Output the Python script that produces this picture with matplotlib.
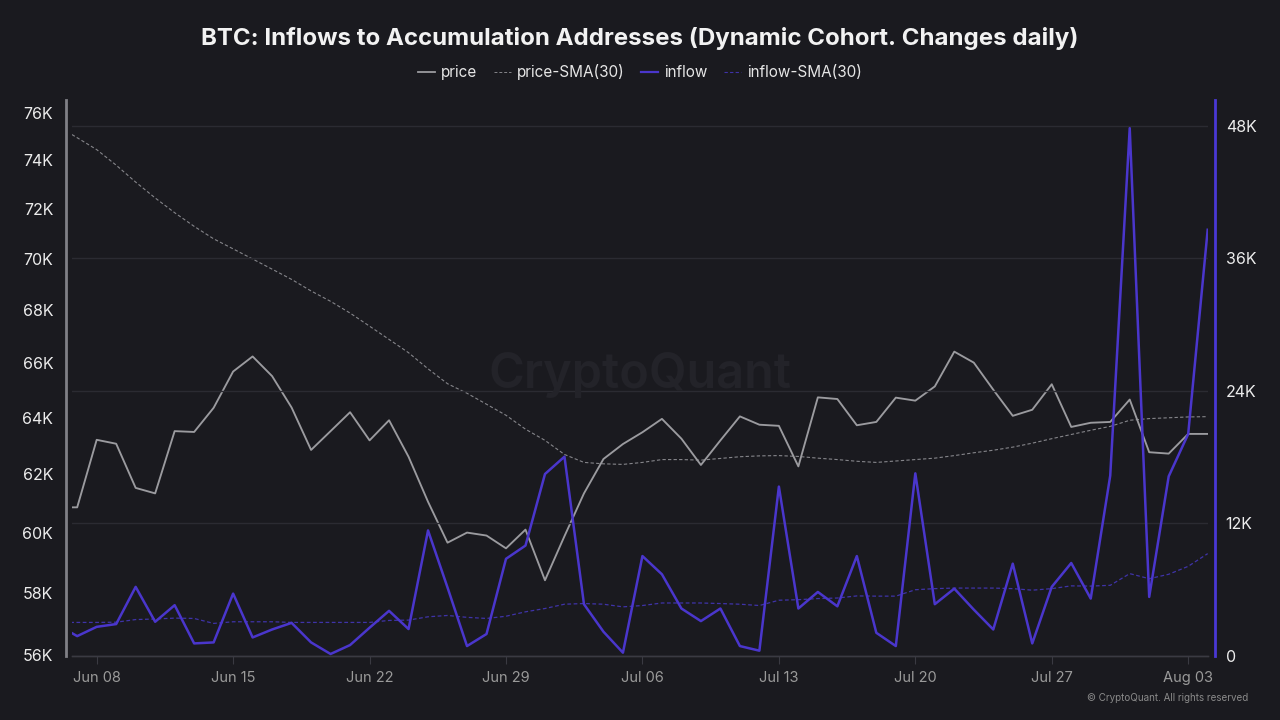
import matplotlib.pyplot as plt
import matplotlib.dates as mdates
import matplotlib.ticker as mticker
from matplotlib.lines import Line2D
import pandas as pd

plt.rcParams['font.family'] = ['Inter', 'DejaVu Sans']

# data (price in K USD, inflow in K BTC)
dates = pd.date_range('2024-06-06', '2024-08-04', freq='D')

price = [60.86, 60.86, 63.22, 63.08, 61.53, 61.34, 63.53, 63.50, 64.37, 65.70,
         66.26, 65.53, 64.38, 62.86, 63.53, 64.21, 63.20, 63.92, 62.62, 61.05,
         59.66, 60.00, 59.90, 59.47, 60.10, 58.41, 59.88, 61.34, 62.54, 63.07,
         63.49, 63.97, 63.26, 62.33, 63.20, 64.06, 63.76, 63.72, 62.28, 64.75,
         64.69, 63.74, 63.86, 64.74, 64.63, 65.15, 66.44, 66.03, 65.03, 64.08,
         64.30, 65.23, 63.68, 63.83, 63.86, 64.67, 62.78, 62.73, 63.43, 63.43]

price_sma = [75.45, 74.95, 74.45, 73.80, 73.10, 72.45, 71.85, 71.30, 70.80, 70.40,
             70.00, 69.60, 69.20, 68.75, 68.35, 67.90, 67.40, 66.90, 66.40, 65.80,
             65.25, 64.90, 64.50, 64.10, 63.60, 63.20, 62.70, 62.42, 62.37, 62.35,
             62.42, 62.52, 62.52, 62.50, 62.56, 62.62, 62.65, 62.66, 62.63, 62.57,
             62.52, 62.46, 62.42, 62.47, 62.52, 62.57, 62.66, 62.76, 62.85, 62.96,
             63.10, 63.26, 63.41, 63.56, 63.70, 63.92, 63.98, 64.01, 64.04, 64.05]

inflow = [2.80, 1.80, 2.64, 2.89, 6.26, 3.10, 4.60, 1.14, 1.23, 5.65,
          1.68, 2.40, 3.00, 1.23, 0.18, 0.99, 2.56, 4.09, 2.44, 11.37,
          6.20, 0.90, 1.99, 8.80, 10.00, 16.48, 18.05, 4.69, 2.20, 0.30,
          9.05, 7.40, 4.30, 3.16, 4.30, 0.90, 0.48, 15.34, 4.30, 5.80,
          4.50, 9.05, 2.10, 0.90, 16.54, 4.69, 6.10, 4.20, 2.40, 8.36,
          1.14, 6.26, 8.42, 5.20, 16.33, 47.80, 5.35, 16.27, 20.10, 38.60]

inflow_sma = [3.04, 3.04, 3.04, 3.06, 3.30, 3.35, 3.43, 3.40, 2.95, 3.10,
              3.10, 3.10, 3.04, 3.04, 3.04, 3.04, 3.04, 3.22, 3.25, 3.55,
              3.67, 3.50, 3.40, 3.60, 4.00, 4.30, 4.69, 4.75, 4.69, 4.45,
              4.57, 4.80, 4.80, 4.80, 4.75, 4.69, 4.57, 5.05, 5.10, 5.20,
              5.25, 5.44, 5.42, 5.42, 6.00, 6.10, 6.15, 6.15, 6.15, 6.10,
              5.96, 6.10, 6.35, 6.33, 6.40, 7.46, 7.00, 7.40, 8.12, 9.27]

price_ticks = [56, 58, 60, 62, 64, 66, 68, 70, 72, 74, 76]
inflow_ticks = [0, 12, 24, 36, 48]

bg = '#1a1a1f'
grid_c = '#2b2b32'
gray = '#9b9b9f'
purple = '#4a36cc'
purple_dim = '#3f33a8'

fig = plt.figure(figsize=(12.8, 7.2), dpi=100, facecolor=bg)
ax = fig.add_axes([0.0565, 0.0889, 0.887, 0.7722])
ax.set_facecolor(bg)
ax2 = ax.twinx()
ax2.patch.set_visible(False)

p = [v * 1000 for v in price]
ps = [v * 1000 for v in price_sma]
inf = [v * 1000 for v in inflow]
infs = [v * 1000 for v in inflow_sma]

ax.plot(dates, p, color=gray, lw=1.35, zorder=3)
ax.plot(dates, ps, color='#85858a', lw=0.8, ls=(0, (3, 2)), zorder=2)
ax2.plot(dates, inf, color=purple, lw=1.8, zorder=3)
ax2.plot(dates, infs, color=purple_dim, lw=0.9, ls=(0, (3, 2)), zorder=2)

# left: log price axis
ax.set_yscale('log')
ax.set_ylim(55970, 76560)
ax.yaxis.set_major_locator(mticker.FixedLocator([t * 1000 for t in price_ticks]))
ax.yaxis.set_minor_locator(mticker.NullLocator())
ax.yaxis.set_major_formatter(mticker.FuncFormatter(lambda v, _: '{:d}K'.format(int(round(v / 1000)))))

# right: inflow
ax2.set_ylim(0, 50350)
ax2.set_yticks([t * 1000 for t in inflow_ticks])
ax2.yaxis.set_major_formatter(mticker.FuncFormatter(lambda v, _: '0' if v == 0 else '{:d}K'.format(int(v / 1000))))
ax2.grid(axis='y', color=grid_c, lw=1)
ax2.set_axisbelow(True)

ax.set_xlim(pd.Timestamp('2024-06-06 18:00'), pd.Timestamp('2024-08-04'))
ax.xaxis.set_major_locator(mdates.WeekdayLocator(byweekday=mdates.SA))
ax.xaxis.set_major_formatter(mdates.DateFormatter('%b %d'))

for a in (ax, ax2):
    a.spines['top'].set_visible(False)
    a.spines['bottom'].set_color('#3a3a42')
    a.spines['bottom'].set_linewidth(1)
ax.spines['right'].set_visible(False)
ax2.spines['left'].set_visible(False)
ax.spines['left'].set_position(('outward', 4.8))
ax.spines['left'].set_color('#808086')
ax.spines['left'].set_linewidth(2)
ax2.spines['right'].set_position(('outward', 5))
ax2.spines['right'].set_color('#4a38d4')
ax2.spines['right'].set_linewidth(2)

ax.tick_params(axis='y', length=0, pad=9, labelsize=11.5, labelcolor='#ececec')
ax2.tick_params(axis='y', length=0, pad=8, labelsize=11.5, labelcolor='#ececec')
ax.tick_params(axis='x', length=6, color='#3a3a42', pad=5, labelsize=10.5, labelcolor='#9a9a9a')
ax2.tick_params(axis='x', length=0)

fig.text(0.5, 0.479, 'CryptoQuant', ha='center', va='center', fontsize=35,
         fontweight='semibold', color='#232329', zorder=0)

fig.text(0.5, 0.947, 'BTC: Inflows to Accumulation Addresses (Dynamic Cohort. Changes daily)',
         ha='center', va='center', fontsize=17.3, fontweight='bold', color='#f2f2f2')

handles = [Line2D([], [], color=gray, lw=1.3),
           Line2D([], [], color='#85858a', lw=0.7, ls=(0, (3, 2))),
           Line2D([], [], color=purple, lw=1.6),
           Line2D([], [], color=purple_dim, lw=0.8, ls=(0, (3, 2)))]
labels = ['price', 'price-SMA(30)', 'inflow', 'inflow-SMA(30)']
fig.legend(handles, labels, loc='center', bbox_to_anchor=(0.5, 0.9), ncol=4, frameon=False,
           fontsize=11, labelcolor='#e6e6e6', handlelength=1.1, handletextpad=0.4,
           columnspacing=1.1)

fig.text(0.975, 0.031, '\u00a9 CryptoQuant. All rights reserved', ha='right', va='center',
         fontsize=7.1, color='#8a8a8a')

fig.savefig('out.png', dpi=100, facecolor=bg)
